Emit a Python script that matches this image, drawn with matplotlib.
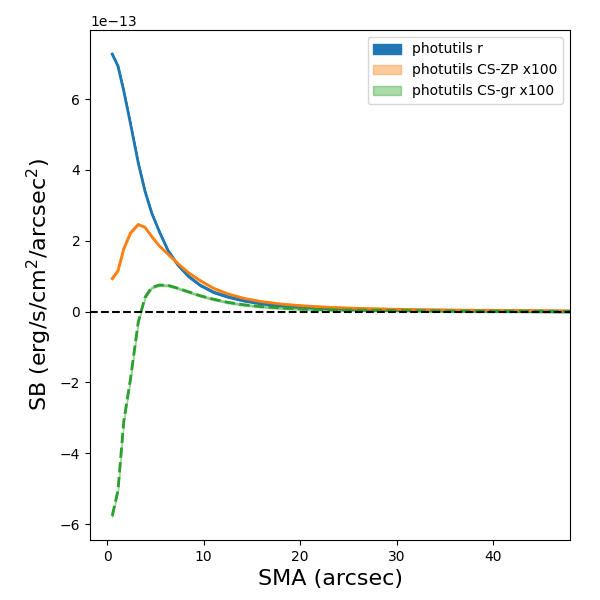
import numpy as np
import matplotlib.pyplot as plt

# semi-major axis (arcsec)
sma = np.array([0.5, 1.1, 1.7, 2.4, 3.2, 3.9, 4.6, 5.4, 6.3, 7.3, 8.4, 9.6, 11.0,
                12.5, 14.2, 16.0, 18.1, 20.4, 23.0, 26.0, 29.3, 33.0, 37.2, 41.9, 47.2, 53.0])

# surface brightness profiles (units of 1e-13 erg/s/cm2/arcsec2)
sb_r = np.array([7.27, 6.93, 6.23, 5.3, 4.2, 3.4, 2.78, 2.25, 1.72, 1.32, 1.0, 0.75, 0.55,
                 0.42, 0.31, 0.23, 0.17, 0.13, 0.10, 0.07, 0.05, 0.04, 0.03, 0.02, 0.01, 0.005])
sb_cszp = np.array([0.93, 1.15, 1.77, 2.22, 2.46, 2.38, 2.12, 1.85, 1.62, 1.36, 1.1, 0.88, 0.66,
                    0.5, 0.37, 0.28, 0.21, 0.16, 0.12, 0.09, 0.07, 0.05, 0.04, 0.03, 0.02, 0.015])
sb_csgr = np.array([-5.77, -5.05, -3.1, -1.9, -0.3, 0.4, 0.68, 0.75, 0.74, 0.66, 0.56, 0.45, 0.35,
                    0.26, 0.19, 0.14, 0.10, 0.07, 0.05, 0.04, 0.03, 0.02, 0.015, 0.01, 0.005, 0.003])
scale = 1e-13
err = 0.025  # band half-width

fig = plt.figure(figsize=(6, 6), dpi=100)
ax = fig.add_axes([0.15, 0.1, 0.8, 0.85])

ax.fill_between(sma, (sb_r - err) * scale, (sb_r + err) * scale, color='C0', label='photutils r')
ax.plot(sma, sb_r * scale, color='C0', lw=2)
ax.fill_between(sma, (sb_cszp - err) * scale, (sb_cszp + err) * scale, color='C1', alpha=0.4,
                label='photutils CS-ZP x100')
ax.plot(sma, sb_cszp * scale, color='C1', lw=2)
ax.fill_between(sma, (sb_csgr - err) * scale, (sb_csgr + err) * scale, color='C2', alpha=0.4,
                label='photutils CS-gr x100')
ax.plot(sma, sb_csgr * scale, color='C2', lw=2, ls='--')

ax.axhline(0, color='k', ls='--', lw=1.5)
ax.set_xlim(-1.8, 48)
ax.set_xlabel('SMA (arcsec)', fontsize=16)
ax.set_ylabel(r'SB (erg/s/cm$^2$/arcsec$^2$)', fontsize=16)
ax.legend(loc='upper right')

fig.savefig('out.png')
